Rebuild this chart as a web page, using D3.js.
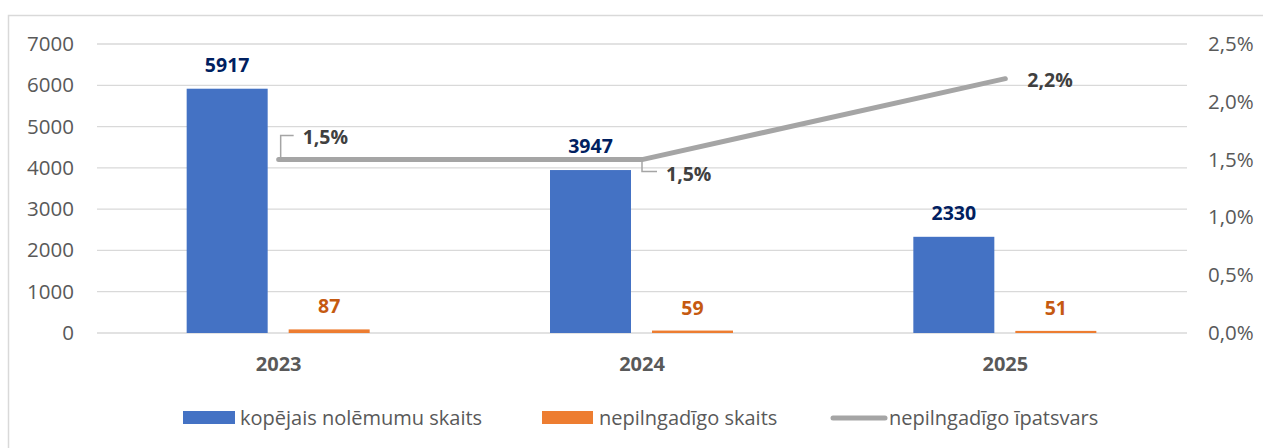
<!DOCTYPE html>
<html>
<head>
<meta charset="utf-8">
<script src="https://cdn.jsdelivr.net/npm/d3@7"></script>
<style>
  body { margin: 0; background: #fff; }
  svg text { font-family: "Open Sans", sans-serif; }
</style>
</head>
<body>
<svg id="chart" width="1263" height="448"></svg>
<script>
var years = ["2023", "2024", "2025"];
var totalCount = [5917, 3947, 2330];
var minorCount = [87, 59, 51];
var minorShare = [1.5, 1.5, 2.2];
var leftTicks = [0, 1000, 2000, 3000, 4000, 5000, 6000, 7000];
var rightTicks = [0, 0.5, 1, 1.5, 2, 2.5];
var legendLabels = ["kopējais nolēmumu skaits", "nepilngadīgo skaits", "nepilngadīgo īpatsvars"];

var blue = "#4472c4", orange = "#ed7d31", grey = "#a5a5a5";
var svg = d3.select("#chart");

// outer frame (right and bottom edges lie outside the picture)
svg.append("rect")
    .attr("x", 8.5).attr("y", 15.5)
    .attr("width", 1300).attr("height", 500)
    .attr("fill", "none")
    .attr("stroke", "#d9d9d9")
    .attr("stroke-width", 1.5);

var plot = { left: 97, right: 1187, top: 44, bottom: 333 };

var x = d3.scaleBand().domain(years).range([plot.left, plot.right]);
var y = d3.scaleLinear().domain([0, 7000]).range([plot.bottom, plot.top]);
var y2 = d3.scaleLinear().domain([0, 2.5]).range([plot.bottom, plot.top]);

var barW = 81;
var fmtPct = d => d3.format(".1f")(d).replace(".", ",") + "%";

// gridlines
svg.append("g")
  .selectAll("line")
  .data(leftTicks)
  .enter()
  .append("line")
    .attr("x1", plot.left).attr("x2", plot.right)
    .attr("y1", d => y(d)).attr("y2", d => y(d))
    .attr("stroke", "#d9d9d9")
    .attr("stroke-width", 1.3);

// left axis
var leftAxis = svg.append("g")
    .attr("transform", "translate(" + (plot.left - 23) + ",0)")
    .call(d3.axisLeft(y).tickValues(leftTicks).tickSize(0).tickFormat(d3.format("d")));
leftAxis.select(".domain").remove();
leftAxis.selectAll("text")
    .attr("x", 0)
    .style("font-size", "20.5px")
    .style("fill", "#595959");

// right axis
var rightAxis = svg.append("g")
    .attr("transform", "translate(" + (plot.right + 21) + ",0)")
    .call(d3.axisRight(y2).tickValues(rightTicks).tickSize(0).tickFormat(fmtPct));
rightAxis.select(".domain").remove();
rightAxis.selectAll("text")
    .attr("x", 0)
    .style("font-size", "20.5px")
    .style("fill", "#595959");

// category labels
svg.append("g")
  .selectAll("text")
  .data(years)
  .enter()
  .append("text")
    .attr("x", d => x(d) + x.bandwidth() / 2)
    .attr("y", 371)
    .style("text-anchor", "middle")
    .style("font-size", "20px")
    .style("font-weight", "bold")
    .style("fill", "#595959")
    .text(d => d);

// bars
var barsData = years.map((d, i) => ({ year: d, total: totalCount[i], minor: minorCount[i] }));

svg.append("g")
  .selectAll("rect")
  .data(barsData)
  .enter()
  .append("rect")
    .attr("x", d => x(d.year) + x.bandwidth() / 2 - 92)
    .attr("y", d => y(d.total))
    .attr("width", barW)
    .attr("height", d => y(0) - y(d.total))
    .attr("fill", blue);

svg.append("g")
  .selectAll("rect")
  .data(barsData)
  .enter()
  .append("rect")
    .attr("x", d => x(d.year) + x.bandwidth() / 2 + 10)
    .attr("y", d => y(d.minor))
    .attr("width", barW)
    .attr("height", d => y(0) - y(d.minor))
    .attr("fill", orange);

// bar value labels
svg.append("g")
  .selectAll("text")
  .data(barsData)
  .enter()
  .append("text")
    .attr("x", d => x(d.year) + x.bandwidth() / 2 - 92 + barW / 2)
    .attr("y", d => y(d.total) - 17)
    .style("text-anchor", "middle")
    .style("font-size", "19.5px")
    .style("font-weight", "bold")
    .style("fill", "#002060")
    .text(d => d.total);

svg.append("g")
  .selectAll("text")
  .data(barsData)
  .enter()
  .append("text")
    .attr("x", d => x(d.year) + x.bandwidth() / 2 + 10 + barW / 2)
    .attr("y", d => y(d.minor) - 16)
    .style("text-anchor", "middle")
    .style("font-size", "19.5px")
    .style("font-weight", "bold")
    .style("fill", "#c55a11")
    .text(d => d.minor);

// share line
var linePts = years.map((d, i) => [x(d) + x.bandwidth() / 2, y2(minorShare[i])]);

svg.append("path")
    .attr("d", d3.line()(linePts))
    .attr("fill", "none")
    .attr("stroke", grey)
    .attr("stroke-width", 5)
    .attr("stroke-linecap", "round")
    .attr("stroke-linejoin", "round");

// leader lines for line labels
var p0 = linePts[0], p1 = linePts[1], p2 = linePts[2];
svg.append("path")
    .attr("d", d3.line()([[p0[0] + 2, p0[1]], [p0[0] + 2, p0[1] - 24], [p0[0] + 15, p0[1] - 24]]))
    .attr("fill", "none").attr("stroke", grey).attr("stroke-width", 1.5);
svg.append("path")
    .attr("d", d3.line()([[p1[0], p1[1]], [p1[0], p1[1] + 12], [p1[0] + 15, p1[1] + 12]]))
    .attr("fill", "none").attr("stroke", grey).attr("stroke-width", 1.5);

var lineLabelPos = [[p0[0] + 24, p0[1] - 16], [p1[0] + 24, p1[1] + 21], [p2[0] + 22, p2[1] + 8]];

svg.append("g")
  .selectAll("text")
  .data(minorShare)
  .enter()
  .append("text")
    .attr("x", (d, i) => lineLabelPos[i][0])
    .attr("y", (d, i) => lineLabelPos[i][1])
    .style("font-size", "19.5px")
    .style("font-weight", "bold")
    .style("fill", "#404040")
    .text(d => fmtPct(d));

// legend
var legendX = [183, 542, 831];
var legend = svg.append("g");

legend.append("rect")
    .attr("x", legendX[0]).attr("y", 411)
    .attr("width", 52).attr("height", 13)
    .attr("fill", blue);
legend.append("rect")
    .attr("x", legendX[1]).attr("y", 411)
    .attr("width", 51).attr("height", 13)
    .attr("fill", orange);
legend.append("line")
    .attr("x1", legendX[2] + 2).attr("x2", legendX[2] + 54)
    .attr("y1", 418).attr("y2", 418)
    .attr("stroke", grey)
    .attr("stroke-width", 5)
    .attr("stroke-linecap", "round");

var legendTextX = [240, 599, 889];
legend.selectAll("text")
  .data(legendLabels)
  .enter()
  .append("text")
    .attr("x", (d, i) => legendTextX[i])
    .attr("y", 425)
    .style("font-size", "20px")
    .style("fill", "#595959")
    .text(d => d);
</script>
</body>
</html>
